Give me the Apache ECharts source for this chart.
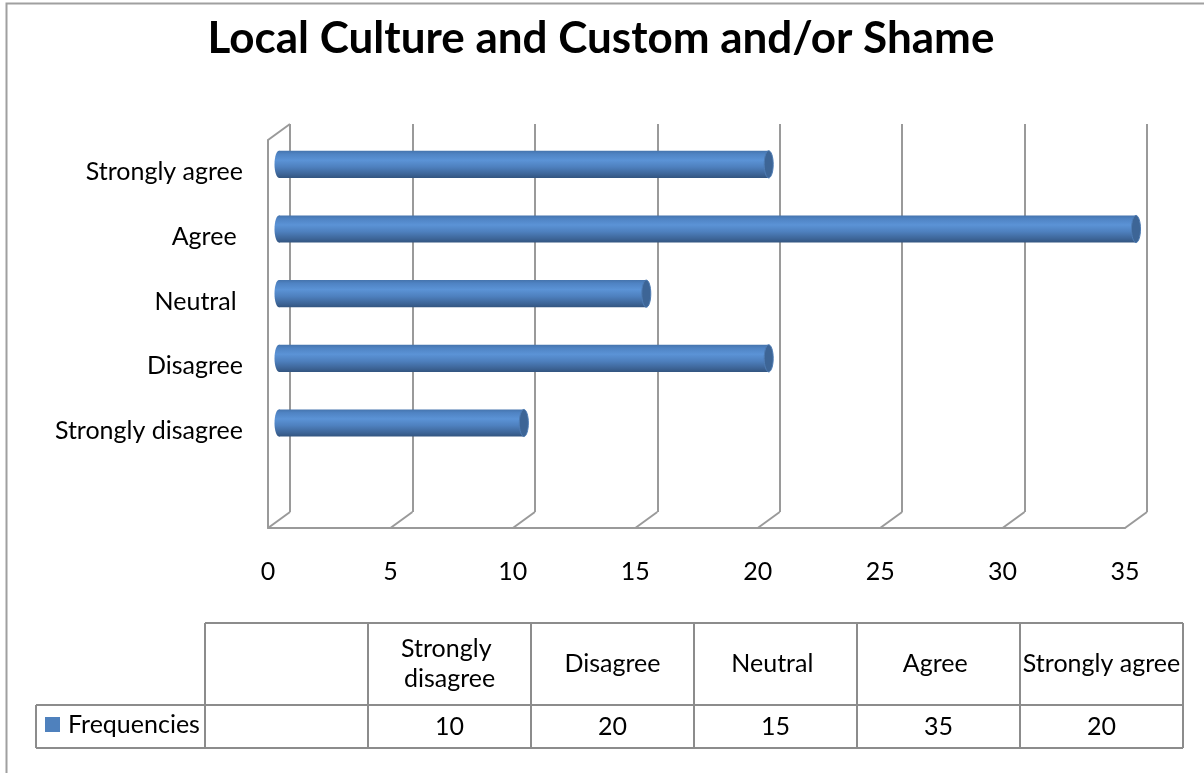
<!DOCTYPE html>
<html>
<head>
<meta charset="utf-8">
<script src="https://cdn.jsdelivr.net/npm/echarts@6/dist/echarts.min.js"></script>
<style>
  html, body { margin: 0; padding: 0; background: #fff; }
  #chart { width: 1204px; height: 773px; }
</style>
</head>
<body>
<div id="chart"></div>
<script>
// ---- data ----
const titleText = 'Local Culture and Custom and/or Shame';
const seriesName = 'Frequencies';
const categories = ['', 'Strongly disagree', 'Disagree', 'Neutral ', 'Agree ', 'Strongly agree'];
const frequencies = [null, 10, 20, 15, 35, 20];
const xTicks = [0, 5, 10, 15, 20, 25, 30, 35];
const xMin = 0, xMax = 35, xStep = 5;

// ---- style / layout ----
const FONT = 'Lato, "Open Sans", sans-serif';
const FS = 25;
const GRID_COLOR = '#9a9a9a';
const DEPTH_X = 22, DEPTH_Y = -16;   // 3D depth offset (front -> back wall)
const front = { left: 268, top: 140, width: 857, height: 388 };
const table = { legendLeft: 36, colLeft: 205, colW: 163, headTop: 623, rowTop: 705, bottom: 748 };

const chart = echarts.init(document.getElementById('chart'), null, { renderer: 'canvas' });

// frame (floor diagonals, top-left diagonal)
function renderFrame(params, api) {
  const cs = params.coordSys;
  const v = api.value(0);
  const x = api.coord([v, 0])[0];
  const floorY = cs.y + cs.height;
  const style = { stroke: GRID_COLOR, lineWidth: 2 };
  const children = [{
    type: 'line',
    shape: { x1: x, y1: floorY, x2: x + DEPTH_X, y2: floorY + DEPTH_Y },
    style: style
  }];
  if (params.dataIndex === 0) {
    children.push({
      type: 'line',
      shape: { x1: cs.x, y1: cs.y, x2: cs.x + DEPTH_X, y2: cs.y + DEPTH_Y },
      style: style
    });
  }
  return { type: 'group', children: children };
}

// cylinder bars
function renderCylinder(params, api) {
  const v = api.value(0);
  const c = api.value(1);
  const start = api.coord([0, c]);
  const end = api.coord([v, c]);
  const h = api.size([0, 1])[1] * 0.42;
  const dx = DEPTH_X / 2, dy = DEPTH_Y / 2;
  const x0 = start[0] + dx, x1 = end[0] + dx, cy = start[1] + dy;
  const rx = 4.5;
  const grad = {
    type: 'linear', x: 0, y: 0, x2: 0, y2: 1,
    colorStops: [
      { offset: 0, color: '#4574ad' },
      { offset: 0.12, color: '#4f83c3' },
      { offset: 0.35, color: '#5b93d6' },
      { offset: 0.6, color: '#4e80be' },
      { offset: 0.85, color: '#3e6699' },
      { offset: 1, color: '#335580' }
    ]
  };
  return {
    type: 'group',
    children: [
      { type: 'ellipse', shape: { cx: x0, cy: cy, rx: rx, ry: h / 2 }, style: { fill: grad } },
      { type: 'rect', shape: { x: x0, y: cy - h / 2, width: x1 - x0, height: h }, style: { fill: grad } },
      { type: 'ellipse', shape: { cx: x1, cy: cy, rx: rx, ry: h / 2 },
        style: { fill: '#3d6596', stroke: '#4e7cb4', lineWidth: 1 } }
    ]
  };
}

// data table
function buildTable() {
  const els = [];
  const lineStyle = { stroke: '#8c8c8c', lineWidth: 2 };
  const right = table.colLeft + table.colW * categories.length;
  const hl = (y, x1, x2) => els.push({ type: 'line', shape: { x1: x1, y1: y, x2: x2, y2: y }, style: lineStyle, silent: true });
  const vl = (x, y1, y2) => els.push({ type: 'line', shape: { x1: x, y1: y1, x2: x, y2: y2 }, style: lineStyle, silent: true });
  hl(table.headTop, table.colLeft, right);
  hl(table.rowTop, table.legendLeft, right);
  hl(table.bottom, table.legendLeft, right);
  vl(table.legendLeft, table.rowTop, table.bottom);
  for (let i = 0; i <= categories.length; i++) {
    vl(table.colLeft + i * table.colW, table.headTop, table.bottom);
  }
  categories.forEach((cat, i) => {
    const cx = table.colLeft + i * table.colW + table.colW / 2;
    els.push({
      type: 'text', silent: true,
      style: {
        text: cat, x: cx, y: (table.headTop + table.rowTop) / 2,
        align: 'center', verticalAlign: 'middle',
        width: table.colW - 2, overflow: 'break', lineHeight: 30,
        font: FS + 'px ' + FONT, fill: '#000'
      }
    });
    els.push({
      type: 'text', silent: true,
      style: {
        text: frequencies[i] == null ? '' : String(frequencies[i]),
        x: cx, y: (table.rowTop + table.bottom) / 2,
        align: 'center', verticalAlign: 'middle',
        font: FS + 'px ' + FONT, fill: '#000'
      }
    });
  });
  // outer chart border
  els.push({
    type: 'rect', silent: true, z: -10,
    shape: { x: 6.5, y: 3.5, width: 1400, height: 1000 },
    style: { fill: 'none', stroke: '#a0a0a0', lineWidth: 2 }
  });
  return els;
}

const barData = [];
frequencies.forEach((v, i) => { if (v != null) barData.push([v, i]); });

const option = {
  backgroundColor: '#fff',
  animation: false,
  title: {
    text: titleText,
    left: 596, top: 12, textAlign: 'center',
    textStyle: { fontFamily: FONT, fontSize: 44, fontWeight: 'bold', color: '#000' }
  },
  legend: {
    data: [seriesName],
    left: 45, top: 712, padding: 0,
    icon: 'rect', itemWidth: 15, itemHeight: 15,
    textStyle: { fontFamily: FONT, fontSize: FS, color: '#000', padding: [0, 0, 0, 3] },
    selectedMode: false
  },
  grid: [
    { left: front.left, top: front.top, width: front.width, height: front.height, containLabel: false },
    { left: front.left + DEPTH_X, top: front.top + DEPTH_Y, width: front.width, height: front.height, containLabel: false }
  ],
  xAxis: [
    {
      type: 'value', gridIndex: 0, min: xMin, max: xMax, interval: xStep,
      axisLine: { show: true, lineStyle: { color: GRID_COLOR, width: 2 } },
      axisTick: { show: false },
      splitLine: { show: false },
      axisLabel: { fontFamily: FONT, fontSize: FS, color: '#000', margin: 31 }
    },
    {
      type: 'value', gridIndex: 1, min: xMin, max: xMax, interval: xStep,
      axisLine: { show: false }, axisTick: { show: false }, axisLabel: { show: false },
      splitLine: { show: true, lineStyle: { color: GRID_COLOR, width: 2 } }
    }
  ],
  yAxis: [
    {
      type: 'category', gridIndex: 0, data: categories,
      axisLine: { show: true, lineStyle: { color: GRID_COLOR, width: 2 } },
      axisTick: { show: false },
      splitLine: { show: false },
      axisLabel: { fontFamily: FONT, fontSize: FS, color: '#000', margin: 25, verticalAlign: 'middle' }
    },
    {
      type: 'category', gridIndex: 1, data: categories,
      axisLine: { show: false }, axisTick: { show: false }, axisLabel: { show: false },
      splitLine: { show: false }
    }
  ],
  series: [
    {
      name: 'frame', type: 'custom', xAxisIndex: 0, yAxisIndex: 0,
      data: xTicks.map(v => [v]), encode: { x: 0 },
      renderItem: renderFrame, silent: true, z: 1
    },
    {
      name: seriesName, type: 'custom', xAxisIndex: 0, yAxisIndex: 0,
      data: barData, encode: { x: 0, y: 1 },
      itemStyle: { color: '#4F81BD' },
      renderItem: renderCylinder, z: 5
    }
  ],
  graphic: buildTable()
};

chart.setOption(option);
</script>
</body>
</html>
